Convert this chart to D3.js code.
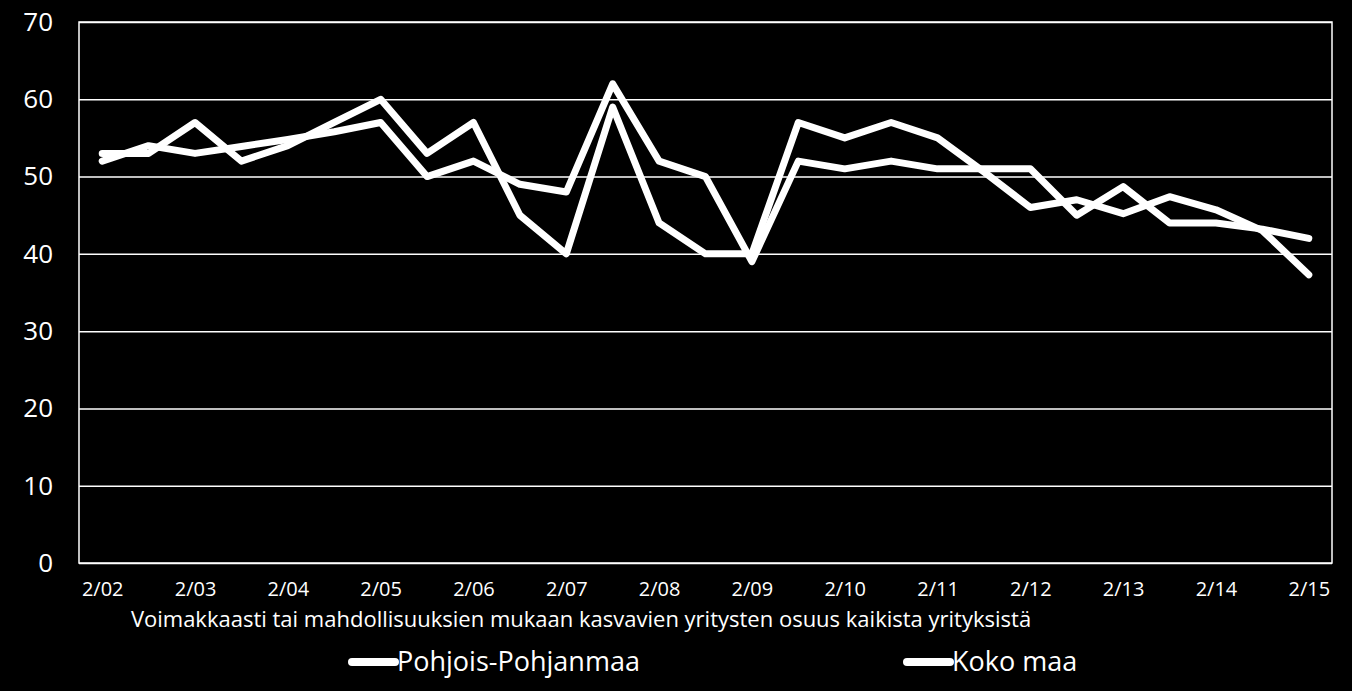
<!DOCTYPE html>
<html>
<head>
<meta charset="utf-8">
<script src="https://cdn.jsdelivr.net/npm/d3@7"></script>
<style>
  html, body { margin: 0; padding: 0; background: #000; }
  svg { display: block; }
</style>
</head>
<body>
<svg id="chart"></svg>
<script>
// half-year survey rounds, 2/02 .. 2/15
const categories = ['2/02','8/02','2/03','8/03','2/04','8/04','2/05','8/05','2/06','8/06',
  '2/07','8/07','2/08','8/08','2/09','8/09','2/10','8/10','2/11','8/11',
  '2/12','8/12','2/13','8/13','2/14','8/14','2/15'];
const tickLabels = categories.filter(c => c.startsWith('2/'));
const yTicks = [0, 10, 20, 30, 40, 50, 60, 70];

const pohjoisPohjanmaa = [53, 53, 57, 52, 54, 57, 60, 53, 57, 45, 40, 59, 44, 40, 40,
  57, 55, 57, 55, 50.6, 46, 47, 45.2, 47.4, 45.7, 43, 37.3];
const kokoMaa = [52, 54, 53, 53.9, 54.8, 55.8, 57, 50, 52, 49, 48, 62, 52, 50, 39,
  52, 51, 52, 51, 51, 51, 45, 48.7, 44, 44, 43.2, 42];

const seriesNames = ['Pohjois-Pohjanmaa', 'Koko maa'];
const axisTitle = 'Voimakkaasti tai mahdollisuuksien mukaan kasvavien yritysten osuus kaikista yrityksistä';

const W = 1352, H = 691;
const margin = {top: 22, right: 20, bottom: 128, left: 79};
const w = W - margin.left - margin.right;
const h = H - margin.top - margin.bottom;
const font = '"Open Sans", "Noto Sans", sans-serif';

const svg = d3.select('#chart')
  .attr('width', W)
  .attr('height', H)
  .style('background', '#000');

const g = svg.append('g').attr('transform', `translate(${margin.left},${margin.top})`);

const x = d3.scalePoint().domain(categories).range([0, w]).padding(0.5);
const y = d3.scaleLinear().domain([0, 70]).range([h, 0]);

// gridlines + y labels
const yAxis = g.append('g')
  .call(d3.axisLeft(y).tickValues(yTicks).tickSize(-w).tickPadding(26));
yAxis.select('.domain').remove();
yAxis.selectAll('line').attr('stroke', '#fff').attr('stroke-width', 1.5);
yAxis.selectAll('text')
  .attr('fill', '#fff')
  .style('font-family', font)
  .style('font-size', '26px');

// frame
g.append('rect')
  .attr('x', 0).attr('y', 0).attr('width', w).attr('height', h)
  .attr('fill', 'none').attr('stroke', '#fff').attr('stroke-width', 1.5);

// x labels
const xAxis = g.append('g')
  .attr('transform', `translate(0,${h})`)
  .call(d3.axisBottom(x).tickValues(tickLabels).tickSize(0));
xAxis.select('.domain').remove();
xAxis.selectAll('text')
  .attr('fill', '#fff')
  .attr('y', 26)
  .attr('dy', '0.35em')
  .style('font-family', font)
  .style('font-size', '20px');

// axis title
svg.append('text')
  .attr('x', 581).attr('y', 619)
  .attr('dy', '0.35em')
  .attr('text-anchor', 'middle')
  .attr('fill', '#fff')
  .style('font-family', font)
  .style('font-size', '22px')
  .text(axisTitle);

const line = d3.line()
  .x((d, i) => x(categories[i]))
  .y(d => y(d));

[pohjoisPohjanmaa, kokoMaa].forEach(values => {
  g.append('path')
    .datum(values)
    .attr('d', line)
    .attr('fill', 'none')
    .attr('stroke', '#fff')
    .attr('stroke-width', 7)
    .attr('stroke-linejoin', 'round')
    .attr('stroke-linecap', 'round');
});

// legend
const legendX = [352, 907];
seriesNames.forEach((name, i) => {
  const lg = svg.append('g').attr('transform', `translate(${legendX[i]},662)`);
  lg.append('line')
    .attr('x1', 0).attr('x2', 43)
    .attr('stroke', '#fff').attr('stroke-width', 8).attr('stroke-linecap', 'round');
  lg.append('text')
    .attr('x', 45).attr('dy', '0.35em')
    .attr('fill', '#fff')
    .style('font-family', font)
    .style('font-size', '27px')
    .text(name);
});
</script>
</body>
</html>
